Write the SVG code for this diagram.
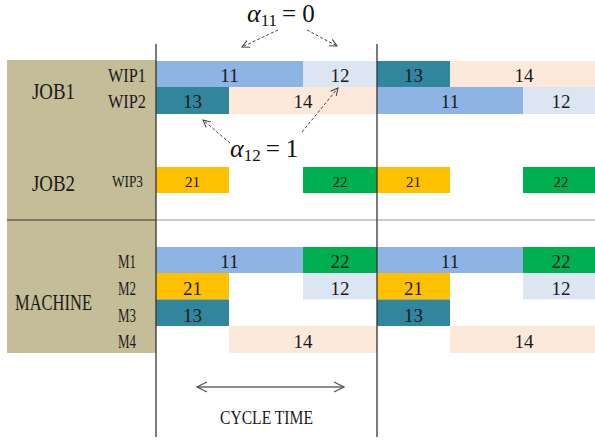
<svg xmlns="http://www.w3.org/2000/svg" width="595" height="440" viewBox="0 0 595 440">
<style>
.t{font-family:"Liberation Serif","Times New Roman",serif;fill:#1a1a1a}
.lab{font-size:24px}
.num{font-size:19px;text-anchor:middle}
.sm{font-size:15px;text-anchor:middle}
.c11{fill:#8EB4E3}.c12{fill:#DCE6F2}.c13{fill:#31859C}.c14{fill:#FDE9D9}.c21{fill:#FFC000}.c22{fill:#00B050}
.dash{stroke:#444;stroke-width:1;stroke-dasharray:3,2;fill:none}
.math{font-family:"Liberation Serif","DejaVu Serif",serif;fill:#111}
</style>
<defs>
<marker id="open" viewBox="0 0 10 10" refX="9" refY="5" markerWidth="9" markerHeight="9" markerUnits="userSpaceOnUse" orient="auto">
<path d="M1,1 L9,5 L1,9" fill="none" stroke="#444" stroke-width="1.2"/>
</marker>
<marker id="ct" viewBox="0 0 12 12" refX="11" refY="6" markerWidth="12" markerHeight="12" markerUnits="userSpaceOnUse" orient="auto-start-reverse">
<path d="M1,1 L11,6 L1,11" fill="none" stroke="#555" stroke-width="1.3"/>
</marker>
</defs>
<rect width="595" height="440" fill="#fff"/>
<g id="panel">
<rect x="7" y="60" width="149" height="293" fill="#C4BD97"/>
<line x1="7" y1="220" x2="156" y2="220" stroke="#333" stroke-width="1.2"/>
<line x1="156" y1="220" x2="595" y2="220" stroke="#999" stroke-width="1.2"/>
<text class="t lab" x="32" y="99" textLength="43" lengthAdjust="spacingAndGlyphs">JOB1</text>
<text class="t lab" x="32" y="191" textLength="43" lengthAdjust="spacingAndGlyphs">JOB2</text>
<text class="t lab" x="15" y="310" textLength="77" lengthAdjust="spacingAndGlyphs">MACHINE</text>
<text class="t" font-size="19" x="108" y="82" textLength="38" lengthAdjust="spacingAndGlyphs">WIP1</text>
<text class="t" font-size="19" x="108" y="108" textLength="38" lengthAdjust="spacingAndGlyphs">WIP2</text>
<text class="t" font-size="16" x="112" y="187" textLength="31" lengthAdjust="spacingAndGlyphs">WIP3</text>
<text class="t" font-size="18" x="118" y="268" textLength="18" lengthAdjust="spacingAndGlyphs">M1</text>
<text class="t" font-size="18" x="118" y="295" textLength="18" lengthAdjust="spacingAndGlyphs">M2</text>
<text class="t" font-size="18" x="118" y="322" textLength="18" lengthAdjust="spacingAndGlyphs">M3</text>
<text class="t" font-size="18" x="118" y="348" textLength="18" lengthAdjust="spacingAndGlyphs">M4</text>
</g>
<g id="wip1">
<rect class="c11" x="156" y="61" width="147" height="26"/><text class="t num" x="229.5" y="82">11</text>
<rect class="c12" x="303" y="61" width="74" height="26"/><text class="t num" x="340" y="82">12</text>
<rect class="c13" x="377" y="61" width="73" height="26"/><text class="t num" x="413.5" y="82">13</text>
<rect class="c14" x="450" y="61" width="145" height="26"/><text class="t num" x="524" y="82">14</text>
</g>
<g id="wip2">
<rect class="c13" x="156" y="87" width="73" height="27"/><text class="t num" x="192.5" y="108">13</text>
<rect class="c14" x="229" y="87" width="148" height="27"/><text class="t num" x="303" y="108">14</text>
<rect class="c11" x="377" y="87" width="146" height="27"/><text class="t num" x="450" y="108">11</text>
<rect class="c12" x="523" y="87" width="72" height="27"/><text class="t num" x="561" y="108">12</text>
</g>
<g id="wip3">
<rect class="c21" x="156" y="167" width="73" height="26"/><text class="t sm" x="192.5" y="187">21</text>
<rect class="c22" x="303" y="167" width="74" height="26"/><text class="t sm" x="340" y="187">22</text>
<rect class="c21" x="377" y="167" width="73" height="26"/><text class="t sm" x="413.5" y="187">21</text>
<rect class="c22" x="523" y="167" width="72" height="26"/><text class="t sm" x="561" y="187">22</text>
</g>
<g id="m1">
<rect class="c11" x="156" y="247" width="147" height="26"/><text class="t num" x="229.5" y="268">11</text>
<rect class="c22" x="303" y="247" width="74" height="26"/><text class="t num" x="340" y="268">22</text>
<rect class="c11" x="377" y="247" width="146" height="26"/><text class="t num" x="450" y="268">11</text>
<rect class="c22" x="523" y="247" width="72" height="26"/><text class="t num" x="561" y="268">22</text>
</g>
<g id="m2">
<rect class="c21" x="156" y="273" width="73" height="26.5"/><text class="t num" x="192.5" y="295">21</text>
<rect class="c12" x="303" y="273" width="74" height="26.5"/><text class="t num" x="340" y="295">12</text>
<rect class="c21" x="377" y="273" width="73" height="26.5"/><text class="t num" x="413.5" y="295">21</text>
<rect class="c12" x="523" y="273" width="72" height="26.5"/><text class="t num" x="561" y="295">12</text>
</g>
<g id="m3">
<rect class="c13" x="156" y="299.5" width="73" height="26.5"/><text class="t num" x="192.5" y="322">13</text>
<rect class="c13" x="377" y="299.5" width="73" height="26.5"/><text class="t num" x="413.5" y="322">13</text>
</g>
<g id="m4">
<rect class="c14" x="229" y="326" width="148" height="27"/><text class="t num" x="303" y="348">14</text>
<rect class="c14" x="450" y="326" width="145" height="27"/><text class="t num" x="524" y="348">14</text>
</g>
<g id="axes">
<line x1="156" y1="44" x2="156" y2="437" stroke="#333" stroke-width="1.3"/>
<line x1="377" y1="44" x2="377" y2="437" stroke="#333" stroke-width="1.3"/>
</g>
<g id="alpha11">
<text class="math" x="247" y="22" font-size="25"><tspan font-style="italic" font-size="26">α</tspan><tspan font-size="17" dy="4">11</tspan><tspan dy="-4" dx="5">=</tspan><tspan dx="6">0</tspan></text>
</g>
<g id="alpha12">
<text class="math" x="230" y="157" font-size="25"><tspan font-style="italic" font-size="26">α</tspan><tspan font-size="17" dy="4">12</tspan><tspan dy="-4" dx="5">=</tspan><tspan dx="6">1</tspan></text>
</g>
<g id="connectors">
<line class="dash" x1="278" y1="30" x2="242" y2="47" marker-end="url(#open)"/>
<line class="dash" x1="307" y1="30" x2="337" y2="46" marker-end="url(#open)"/>
<line class="dash" x1="230" y1="143" x2="203" y2="120" marker-end="url(#open)"/>
<line class="dash" x1="302" y1="132" x2="338" y2="88" marker-end="url(#open)"/>
<line x1="197" y1="387" x2="344" y2="387" stroke="#666" stroke-width="1.3" marker-start="url(#ct)" marker-end="url(#ct)"/>
</g>
<g id="cycle">
<text class="t" font-size="18" x="220" y="424" textLength="93" lengthAdjust="spacingAndGlyphs">CYCLE TIME</text>
</g>
</svg>
